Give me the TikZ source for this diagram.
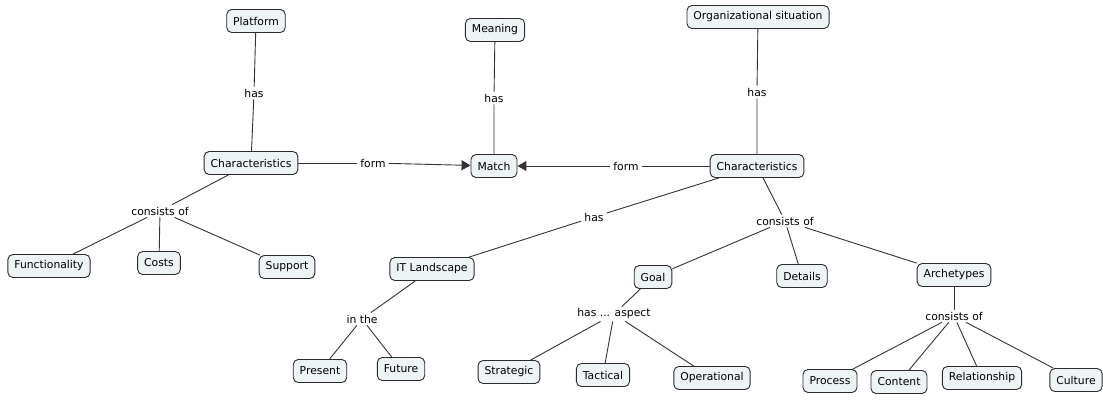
\documentclass[tikz,border=0pt]{standalone}
\usepackage{fontspec}
\setmainfont{DejaVu Sans}
\usetikzlibrary{arrows.meta}
\definecolor{boxfill}{HTML}{EEF3F5}
\definecolor{boxline}{HTML}{2B2B2B}
\definecolor{connline}{HTML}{333333}
\tikzset{
  concept/.style={draw=boxline, fill=boxfill, rounded corners=5pt, line width=0.9pt,
    minimum height=23pt, inner xsep=6.5pt, inner ysep=2pt, font=\fontsize{10.8}{12}\selectfont},
  lbl/.style={inner xsep=3pt, inner ysep=2pt, font=\fontsize{10.8}{12}\selectfont},
  conn/.style={draw=connline, line width=0.9pt},
  arr/.style={conn, -{Triangle[length=9pt,width=10pt]}}
}
\begin{document}
\begin{tikzpicture}[x=1pt,y=-1pt]
\useasboundingbox (0,0) rectangle (1103,402);
% concepts
\node[concept] (plat) at (256,21) {Platform};
\node[concept] (mean) at (495,30) {Meaning};
\node[concept] (org) at (758,17) {Organizational situation};
\node[concept] (charL) at (251,163) {Characteristics};
\node[concept] (match) at (494,166) {Match};
\node[concept] (charR) at (757,166) {Characteristics};
\node[concept] (func) at (49,266) {Functionality};
\node[concept] (costs) at (159,263) {Costs};
\node[concept] (supp) at (287,267) {Support};
\node[concept] (itl) at (432,269) {IT Landscape};
\node[concept] (goal) at (653,277) {Goal};
\node[concept] (det) at (802,276) {Details};
\node[concept] (arch) at (954,275) {Archetypes};
\node[concept] (pres) at (320,371) {Present};
\node[concept] (fut) at (401,369) {Future};
\node[concept] (strat) at (509,372) {Strategic};
\node[concept] (tact) at (603,375) {Tactical};
\node[concept] (oper) at (712,378) {Operational};
\node[concept] (proc) at (830,381) {Process};
\node[concept] (cont) at (899,382) {Content};
\node[concept] (rel) at (982,378) {Relationship};
\node[concept] (cult) at (1076,380) {Culture};
% linking phrases
\node[lbl] (l1) at (254,93) {has};
\node[lbl] (l2) at (494,98) {has};
\node[lbl] (l3) at (757,92) {has};
\node[lbl] (l4) at (373,163) {form};
\node[lbl] (l5) at (626,166) {form};
\node[lbl] (l6) at (160,211) {consists of};
\node[lbl] (l7) at (594,217) {has};
\node[lbl] (l8) at (785,221) {consists of};
\node[lbl] (l9) at (362,319) {in the};
\node[lbl] (l10) at (614,314) {has ... aspect};
\node[lbl] (l11) at (954,316) {consists of};
% connectors
\draw[conn] (plat) -- (l1) -- (charL);
\draw[conn] (mean) -- (l2) -- (match);
\draw[conn] (org) -- (l3) -- (charR);
\draw[conn] (charL) -- (l4);
\draw[arr] (l4) -- (match);
\draw[conn] (charR) -- (l5);
\draw[arr] (l5) -- (match);
\draw[conn] (charL) -- (l6);
\draw[conn] (l6) -- (func);
\draw[conn] (l6) -- (costs);
\draw[conn] (l6) -- (supp);
\draw[conn] (charR) -- (l7) -- (itl);
\draw[conn] (charR) -- (l8);
\draw[conn] (l8) -- (goal);
\draw[conn] (l8) -- (det);
\draw[conn] (l8) -- (arch);
\draw[conn] (itl) -- (l9);
\draw[conn] (l9) -- (pres);
\draw[conn] (l9) -- (fut);
\draw[conn] (goal) -- (l10);
\draw[conn] (l10) -- (strat);
\draw[conn] (l10) -- (tact);
\draw[conn] (l10) -- (oper);
\draw[conn] (arch) -- (l11);
\draw[conn] (l11) -- (proc);
\draw[conn] (l11) -- (cont);
\draw[conn] (l11) -- (rel);
\draw[conn] (l11) -- (cult);
\end{tikzpicture}
\end{document}
